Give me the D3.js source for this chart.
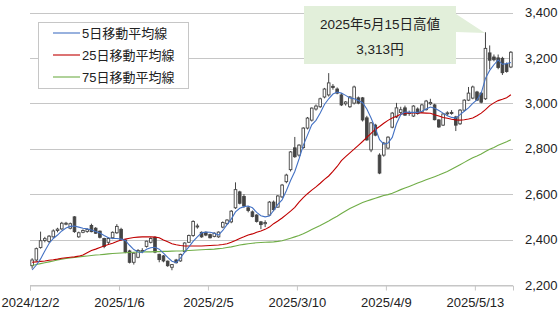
<!DOCTYPE html>
<html>
<head>
<meta charset="utf-8">
<script src="https://cdn.jsdelivr.net/npm/d3@7"></script>
<style>
  body { margin: 0; background: #fff; }
  text { font-family: "Liberation Sans", Arial, "Noto Sans CJK JP", sans-serif; }
</style>
</head>
<body>
<script>
// trading days, 2024/12/2 - 2025/5/23
var dates = [
  '2024/12/2', '2024/12/3', '2024/12/4', '2024/12/5', '2024/12/6', '2024/12/9', '2024/12/10',
  '2024/12/11', '2024/12/12', '2024/12/13', '2024/12/16', '2024/12/17', '2024/12/18', '2024/12/19',
  '2024/12/20', '2024/12/23', '2024/12/24', '2024/12/25', '2024/12/26', '2024/12/27', '2024/12/30',
  '2025/1/6', '2025/1/7', '2025/1/8', '2025/1/9', '2025/1/10', '2025/1/14', '2025/1/15',
  '2025/1/16', '2025/1/17', '2025/1/20', '2025/1/21', '2025/1/22', '2025/1/23', '2025/1/24',
  '2025/1/27', '2025/1/28', '2025/1/29', '2025/1/30', '2025/1/31',
  '2025/2/3', '2025/2/4', '2025/2/5', '2025/2/6', '2025/2/7', '2025/2/10', '2025/2/12',
  '2025/2/13', '2025/2/14', '2025/2/17', '2025/2/18', '2025/2/19', '2025/2/20', '2025/2/21',
  '2025/2/25', '2025/2/26', '2025/2/27', '2025/2/28',
  '2025/3/3', '2025/3/4', '2025/3/5', '2025/3/6', '2025/3/7', '2025/3/10', '2025/3/11',
  '2025/3/12', '2025/3/13', '2025/3/14', '2025/3/17', '2025/3/18', '2025/3/19', '2025/3/21',
  '2025/3/24', '2025/3/25', '2025/3/26', '2025/3/27', '2025/3/28', '2025/3/31',
  '2025/4/1', '2025/4/2', '2025/4/3', '2025/4/4', '2025/4/7', '2025/4/8', '2025/4/9',
  '2025/4/10', '2025/4/11', '2025/4/14', '2025/4/15', '2025/4/16', '2025/4/17', '2025/4/18',
  '2025/4/21', '2025/4/22', '2025/4/23', '2025/4/24', '2025/4/25', '2025/4/28', '2025/4/30',
  '2025/5/1', '2025/5/2', '2025/5/7', '2025/5/8', '2025/5/9', '2025/5/12', '2025/5/13',
  '2025/5/14', '2025/5/15', '2025/5/16', '2025/5/19', '2025/5/20', '2025/5/21', '2025/5/22', '2025/5/23'
];

var open = [
  2285, 2310, 2365, 2396, 2392, 2412, 2440, 2447, 2470, 2450, 2500, 2412, 2432, 2436, 2462, 2450, 2437, 2405, 2388, 2408,
  2430, 2445, 2398, 2350, 2300, 2322, 2350, 2370, 2388, 2410, 2335, 2328, 2305, 2278, 2310, 2306, 2347, 2388, 2418, 2458,
  2432, 2432, 2422, 2414, 2412, 2455, 2470, 2478, 2540, 2610, 2590, 2540, 2522, 2508, 2478, 2470, 2508, 2565, 2543, 2588,
  2655, 2708, 2804, 2772, 2805, 2891, 2926, 2975, 2985, 3028, 3037, 3075, 3063, 3037, 2998, 2985, 3001, 3024, 3024, 2936,
  2795, 2904, 2772, 2772, 2803, 2895, 2940, 2960, 2980, 2955, 2944, 2975, 2962, 2972, 2998, 2993, 2927, 2904, 2955, 2960,
  2940, 2910, 2970, 3014, 3023, 3050, 3045, 3020, 3222, 3204, 3200, 3198, 3172, 3160
];
var high = [
  2318, 2365, 2435, 2412, 2420, 2445, 2452, 2478, 2478, 2475, 2503, 2435, 2445, 2450, 2470, 2455, 2440, 2408, 2410, 2436,
  2468, 2452, 2402, 2355, 2345, 2358, 2362, 2395, 2410, 2415, 2338, 2332, 2308, 2292, 2315, 2338, 2388, 2422, 2485, 2470,
  2436, 2436, 2426, 2432, 2436, 2480, 2490, 2530, 2652, 2615, 2600, 2548, 2528, 2512, 2482, 2485, 2570, 2572, 2596, 2645,
  2690, 2790, 2852, 2820, 2895, 2940, 2982, 2995, 3025, 3068, 3133, 3085, 3070, 3045, 3010, 3032, 3078, 3030, 3028, 2945,
  2918, 2910, 2780, 2830, 2855, 2962, 3002, 2985, 2990, 2968, 2992, 2982, 2998, 3015, 3020, 2998, 2930, 2957, 2965, 2970,
  2945, 2975, 3018, 3072, 3078, 3055, 3050, 3313, 3255, 3215, 3215, 3205, 3180, 3230
];
var low = [
  2272, 2305, 2360, 2388, 2385, 2408, 2432, 2443, 2463, 2445, 2430, 2408, 2428, 2430, 2432, 2425, 2405, 2362, 2380, 2402,
  2425, 2395, 2340, 2295, 2290, 2318, 2340, 2365, 2383, 2340, 2300, 2300, 2280, 2265, 2295, 2302, 2342, 2385, 2412, 2448,
  2408, 2415, 2405, 2410, 2408, 2450, 2465, 2472, 2535, 2555, 2540, 2520, 2498, 2475, 2446, 2455, 2505, 2525, 2540, 2583,
  2648, 2700, 2760, 2765, 2800, 2885, 2920, 2968, 2980, 3022, 3030, 3060, 3040, 2988, 2990, 2980, 2995, 2996, 2920, 2835,
  2785, 2855, 2688, 2765, 2798, 2890, 2935, 2950, 2945, 2945, 2940, 2950, 2958, 2968, 2992, 2925, 2892, 2900, 2945, 2950,
  2878, 2905, 2965, 3010, 3018, 3010, 3000, 3015, 3150, 3185, 3150, 3125, 3135, 3155
];
var close = [
  2310, 2360, 2395, 2404, 2415, 2438, 2446, 2472, 2472, 2470, 2435, 2430, 2440, 2444, 2435, 2428, 2410, 2370, 2405, 2432,
  2458, 2400, 2345, 2300, 2340, 2352, 2352, 2393, 2405, 2345, 2312, 2306, 2285, 2290, 2298, 2335, 2385, 2418, 2480, 2460,
  2412, 2420, 2408, 2428, 2433, 2475, 2486, 2525, 2620, 2560, 2548, 2528, 2502, 2480, 2466, 2475, 2565, 2532, 2592, 2640,
  2684, 2786, 2765, 2816, 2891, 2935, 2979, 2988, 3020, 3063, 3090, 3070, 3045, 2993, 3006, 3028, 3072, 3001, 2927, 2839,
  2914, 2860, 2693, 2825, 2851, 2957, 2980, 2972, 2948, 2960, 2988, 2955, 2993, 3010, 3004, 2928, 2896, 2953, 2958, 2956,
  2904, 2970, 3014, 3045, 3072, 3014, 3005, 3242, 3190, 3192, 3158, 3135, 3140, 3225
];

var ma5 = [
  2266, 2288, 2315, 2350, 2383, 2405, 2420, 2438, 2451, 2458, 2460, 2455, 2450, 2447, 2442, 2436, 2429, 2418, 2408, 2405,
  2405, 2402, 2396, 2375, 2356, 2345, 2343, 2357, 2364, 2366, 2358, 2340, 2322, 2305, 2299, 2318, 2345, 2368, 2392, 2412,
  2430, 2433, 2432, 2428, 2420, 2440, 2466, 2490, 2522, 2538, 2545, 2548, 2540, 2520, 2505, 2500, 2504, 2528, 2555, 2575,
  2615, 2660, 2700, 2755, 2815, 2860, 2905, 2925, 2957, 2995, 3020, 3041, 3050, 3045, 3035, 3024, 3020, 3012, 3003, 2975,
  2935, 2890, 2840, 2820, 2825, 2850, 2910, 2950, 2962, 2960, 2960, 2960, 2965, 2975, 2984, 2978, 2968, 2957, 2945, 2938,
  2935, 2950, 2965, 2980, 3000, 3015, 3045, 3110, 3145, 3170, 3191, 3172, 3175, 3180
];
var ma25 = [
  2300, 2302, 2304, 2306, 2309, 2311, 2314, 2318, 2320, 2322, 2324, 2327, 2332, 2342, 2352, 2358, 2365, 2372, 2378, 2384,
  2392, 2398, 2402, 2406, 2409, 2411, 2412, 2412, 2412, 2411, 2408, 2398, 2390, 2382, 2377, 2374, 2372, 2372, 2372, 2372,
  2372, 2373, 2374, 2375, 2376, 2378, 2382, 2388, 2396, 2405, 2412, 2420, 2425, 2432, 2438, 2445, 2455, 2470, 2482, 2495,
  2510, 2525, 2542, 2565, 2585, 2602, 2618, 2632, 2648, 2665, 2680, 2700, 2722, 2748, 2765, 2782, 2798, 2815, 2832, 2850,
  2868, 2885, 2898, 2912, 2925, 2935, 2943, 2952, 2957, 2958, 2958, 2958, 2958, 2957, 2956, 2950, 2944, 2938, 2934, 2930,
  2927, 2926, 2928, 2931, 2935, 2945, 2957, 2972, 2990, 3002, 3012, 3018, 3025, 3038
];
var ma75 = [
  2286, 2290, 2294, 2298, 2302, 2306, 2310, 2314, 2317, 2319, 2321, 2323, 2326, 2328, 2330, 2332, 2333, 2335, 2337, 2339,
  2340, 2341, 2342, 2343, 2344, 2345, 2345, 2346, 2346, 2347, 2347, 2348, 2348, 2349, 2350, 2350, 2351, 2352, 2353, 2354,
  2355, 2356, 2357, 2358, 2360, 2362, 2365, 2368, 2372, 2376, 2379, 2382, 2384, 2386, 2387, 2388, 2389, 2390, 2392, 2395,
  2400, 2406, 2412, 2418, 2426, 2435, 2444, 2453, 2462, 2472, 2482, 2493, 2503, 2515, 2526, 2537, 2546, 2555, 2563, 2570,
  2576, 2582, 2588, 2594, 2598, 2604, 2612, 2620, 2627, 2634, 2641, 2649, 2656, 2663, 2670, 2677, 2684, 2692, 2700, 2710,
  2720, 2730, 2740, 2750, 2760, 2768, 2777, 2788, 2798, 2806, 2815, 2823, 2831, 2840
];

var yTicks = [2200, 2400, 2600, 2800, 3000, 3200, 3400];
var xTickIdx = [0, 21, 42, 63, 84, 105];
var maNames = ['5日移動平均線', '25日移動平均線', '75日移動平均線'];
var maColors = ['#4472c4', '#c00000', '#70ad47'];
var noteLines = ['2025年5月15日高値', '3,313円'];

var W = 560, H = 314;
var svg = d3.select('body').append('svg')
  .attr('width', W)
  .attr('height', H);

var x = d3.scaleLinear().domain([0, dates.length]).range([30, 513]);
var y = d3.scaleLinear().domain([2200, 3400]).range([285, 12.5]);
var bw = (x(1) - x(0)) * 0.62;

// gridlines
svg.append('g')
  .selectAll('line')
  .data(yTicks)
  .enter()
  .append('line')
  .attr('x1', 30)
  .attr('x2', 513)
  .attr('y1', function (d) { return Math.round(y(d)) + 0.5; })
  .attr('y2', function (d) { return Math.round(y(d)) + 0.5; })
  .attr('stroke', '#c6c6c6')
  .attr('stroke-width', 1);

// x axis, ticks between categories
var xAxis = svg.append('g')
  .attr('transform', 'translate(0,' + (Math.round(y(2200)) + 0.5) + ')')
  .call(d3.axisBottom(x).tickValues(xTickIdx)
    .tickFormat(function (i) { return dates[i]; })
    .tickSize(5).tickPadding(7));
xAxis.select('.domain').attr('stroke', '#c6c6c6');
xAxis.selectAll('.tick line').attr('stroke', '#c6c6c6');
xAxis.selectAll('text').attr('font-size', 13).attr('fill', '#222');

// y axis on the right
var yAxis = svg.append('g')
  .attr('transform', 'translate(513,0)')
  .call(d3.axisRight(y).tickValues(yTicks).tickFormat(d3.format(','))
    .tickSize(0).tickPadding(12));
yAxis.select('.domain').remove();
yAxis.selectAll('text').attr('font-size', 13).attr('fill', '#222');

// candles
var idx = d3.range(dates.length);
var candles = svg.append('g');
candles.selectAll('line')
  .data(idx)
  .enter()
  .append('line')
  .attr('x1', function (i) { return x(i + 0.5); })
  .attr('x2', function (i) { return x(i + 0.5); })
  .attr('y1', function (i) { return y(high[i]); })
  .attr('y2', function (i) { return y(low[i]); })
  .attr('stroke', '#444')
  .attr('stroke-width', 1);
candles.selectAll('rect')
  .data(idx)
  .enter()
  .append('rect')
  .attr('x', function (i) { return x(i + 0.5) - bw / 2; })
  .attr('width', bw)
  .attr('y', function (i) { return y(Math.max(open[i], close[i])); })
  .attr('height', function (i) { return Math.max(1, Math.abs(y(open[i]) - y(close[i]))); })
  .attr('fill', function (i) { return close[i] >= open[i] ? '#fff' : '#444'; })
  .attr('stroke', '#444')
  .attr('stroke-width', 0.9);

// moving averages
var line = d3.line()
  .x(function (d, i) { return x(i + 0.5); })
  .y(function (d) { return y(d); });
[ma75, ma25, ma5].forEach(function (s, k) {
  svg.append('path')
    .datum(s)
    .attr('d', line)
    .attr('fill', 'none')
    .attr('stroke', maColors[2 - k])
    .attr('stroke-width', 1.1);
});

// legend
var lg = svg.append('g');
lg.append('rect')
  .attr('x', 38.5).attr('y', 22.5)
  .attr('width', 150).attr('height', 66)
  .attr('fill', '#fff')
  .attr('stroke', '#c6c6c6');
maNames.forEach(function (n, k) {
  var ly = 33 + k * 22;
  lg.append('line')
    .attr('x1', 53).attr('x2', 80)
    .attr('y1', ly).attr('y2', ly)
    .attr('stroke', maColors[k]).attr('stroke-width', 1.1);
  lg.append('text')
    .attr('x', 82).attr('y', ly + 4.5)
    .attr('font-size', 13).attr('fill', '#222')
    .text(n);
});

// callout for the high
var note = svg.append('g');
note.append('path')
  .attr('d', 'M304,6 L456,6 L456,14 L485,33 L456,32 L456,64 L304,64 Z')
  .attr('fill', '#e2efda');
noteLines.forEach(function (t, k) {
  note.append('text')
    .attr('x', 380).attr('y', 29 + k * 25)
    .attr('text-anchor', 'middle')
    .attr('font-size', 13.5).attr('fill', '#222')
    .text(t);
});
</script>
</body>
</html>
